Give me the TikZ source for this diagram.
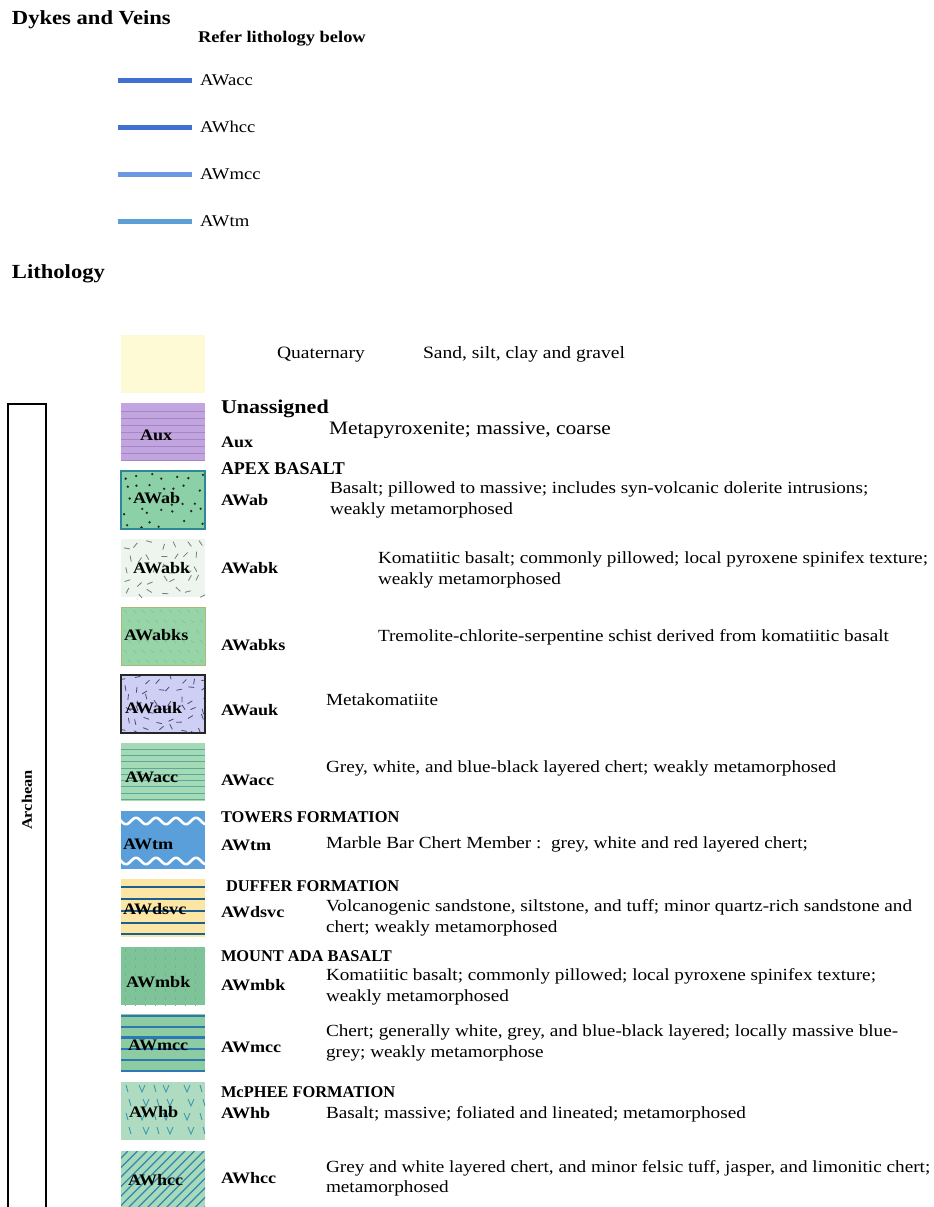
\documentclass[tikz,border=0pt]{standalone}
\usepackage{fontspec}
\setmainfont{Liberation Serif}[FakeStretch=1.13]
\newfontfamily\capsfont{Liberation Serif}[FakeStretch=1.0]
\begin{document}
\begin{tikzpicture}[x=1pt,y=-1pt,
  every node/.style={inner sep=0pt,outer sep=0pt},
  lbox/.style={rectangle,minimum width=84pt,minimum height=58pt,anchor=north west},
  blab/.style={anchor=base west,font=\bfseries\fontsize{16}{16}\selectfont},
  code/.style={anchor=base west,font=\bfseries\fontsize{16}{16}\selectfont},
  form/.style={anchor=base west,font=\capsfont\bfseries\fontsize{16.4}{16.4}\selectfont},
  desc/.style={anchor=base west,font=\fontsize{17}{17}\selectfont},
  title/.style={anchor=base west,font=\bfseries\fontsize{20}{20}\selectfont},
  dyke/.style={line width=5pt},
  dlab/.style={anchor=base west,font=\fontsize{16.5}{16.5}\selectfont}
]
\definecolor{quat}{HTML}{FFFAD6}
\definecolor{auxf}{HTML}{C2A5DE}
\definecolor{auxl}{HTML}{A586C6}
\definecolor{abf}{HTML}{8BD0A6}
\definecolor{abb}{HTML}{2E8796}
\definecolor{abkf}{HTML}{EDF5EE}
\definecolor{abkd}{HTML}{6F8076}
\definecolor{abksf}{HTML}{97D4A8}
\definecolor{abksd}{HTML}{82C195}
\definecolor{abksb}{HTML}{A9BA74}
\definecolor{aukf}{HTML}{CFCFF6}
\definecolor{aukd}{HTML}{4B4B72}
\definecolor{accf}{HTML}{A4DBB6}
\definecolor{accl}{HTML}{5AA99A}
\definecolor{tmf}{HTML}{5A9FDA}
\definecolor{dsvf}{HTML}{FBE6A6}
\definecolor{dsvl}{HTML}{1D5F8F}
\definecolor{mbkf}{HTML}{7FC398}
\definecolor{mbkd}{HTML}{70B68A}
\definecolor{mccf}{HTML}{8DCBA2}
\definecolor{mccl}{HTML}{2B78B3}
\definecolor{hbf}{HTML}{AFDCC0}
\definecolor{hbl}{HTML}{3C98B2}
\definecolor{hccf}{HTML}{A7D9BA}
\definecolor{hccl}{HTML}{2E88AE}
\definecolor{dk1}{HTML}{4270CE}
\definecolor{dk2}{HTML}{4270CE}
\definecolor{dk3}{HTML}{6C98E2}
\definecolor{dk4}{HTML}{5C9ED6}

\fill[white] (0,0) rectangle (934,1207);
\useasboundingbox (0,0) rectangle (934,1207);

% ---------- Dykes and Veins ----------
\node[title] (tdyke) at (12,25) {Dykes and Veins};
\node[anchor=base west,font=\bfseries\fontsize{16.3}{16.3}\selectfont] (tref) at (198,43) {Refer lithology below};
\coordinate (d1a) at (118,80);  \coordinate (d1b) at (192,80);
\coordinate (d2a) at (118,127); \coordinate (d2b) at (192,127);
\coordinate (d3a) at (118,174); \coordinate (d3b) at (192,174);
\coordinate (d4a) at (118,221); \coordinate (d4b) at (192,221);
\draw[dyke,dk1] (d1a) -- (d1b);
\draw[dyke,dk2] (d2a) -- (d2b);
\draw[dyke,dk3] (d3a) -- (d3b);
\draw[dyke,dk4] (d4a) -- (d4b);
\node[dlab] (dl1) at (200,85) {AWacc};
\node[dlab] (dl2) at (200,132) {AWhcc};
\node[dlab] (dl3) at (200,179) {AWmcc};
\node[dlab] (dl4) at (200,226) {AWtm};

% ---------- Lithology ----------
\node[title] (tlith) at (12,278) {Lithology};

% Archean bracket
\node[draw,line width=1.1pt,rectangle,anchor=north west,minimum width=38pt,minimum height=830pt] (arch) at (8,404) {};
\node[rotate=90,font=\bfseries\fontsize{14.5}{14.5}\selectfont] (archt) at (27,800) {Archean};

% Quaternary
\node[lbox,fill=quat] (bq) at (121,335) {};
\node[anchor=base west,font=\fontsize{17.3}{17.3}\selectfont] (tq1) at (277,358) {Quaternary};
\node[anchor=base west,font=\fontsize{17.3}{17.3}\selectfont] (tq2) at (423,358) {Sand, silt, clay and gravel};

% Aux
\node[lbox,fill=auxf] (baux) at (121,403) {};
\begin{scope}
\clip (baux.north west) rectangle (baux.south east);
\begin{scope}[shift={(baux.north west)}]
\foreach \yy in {8,15,...,57} \draw[auxl,line width=0.7pt] (0,\yy) -- (84,\yy);
\end{scope}
\end{scope}
\node[blab] (laux) at (140,440) {Aux};
\node[anchor=base west,font=\bfseries\fontsize{19.5}{19.5}\selectfont] (hun) at (221,413) {Unassigned};
\node[code] (caux) at (221,447) {Aux};
\node[anchor=base west,font=\fontsize{19}{19}\selectfont] (daux) at (329,434) {Metapyroxenite; massive, coarse};

% AWab
\node[lbox,fill=abf] (bab) at (121,471) {};
\begin{scope}
\clip (bab.north west) rectangle (bab.south east);
\begin{scope}[shift={(bab.north west)}]
\pgfmathsetseed{11}
\foreach \r in {0,...,4} \foreach \c in {0,...,6} {
  \fill[black!85] ({\c*12+6+(rnd-0.5)*9},{\r*12+6+(rnd-0.5)*9}) circle (1.3pt);
}
\end{scope}
\end{scope}
\draw[abb,line width=1.4pt] (bab.north west) rectangle (bab.south east);
\node[blab] (lab) at (133,503) {AWab};
\node[anchor=base west,font=\capsfont\bfseries\fontsize{18}{18}\selectfont] (hapex) at (221,474) {APEX BASALT};
\node[code] (cab) at (221,505) {AWab};
\node[desc] (dab1) at (330,493) {Basalt; pillowed to massive; includes syn-volcanic dolerite intrusions;};
\node[desc] (dab2) at (330,514) {weakly metamorphosed};

% AWabk
\node[lbox,fill=abkf] (babk) at (121,539) {};
\begin{scope}
\clip (babk.north west) rectangle (babk.south east);
\begin{scope}[shift={(babk.north west)}]
\pgfmathsetseed{5}
\foreach \r in {0,...,4} \foreach \c in {0,...,6} {
  \pgfmathsetmacro{\xx}{\c*12+6+(rnd-0.5)*8}
  \pgfmathsetmacro{\yy}{\r*12+6+(rnd-0.5)*8}
  \pgfmathsetmacro{\aa}{rnd*180}
  \draw[abkd,line width=0.8pt] (\xx,\yy) ++(\aa:3) -- ++(\aa+180:6);
}
\end{scope}
\end{scope}
\node[blab] (labk) at (133,573) {AWabk};
\node[code] (cabk) at (221,573) {AWabk};
\node[desc] (dabk1) at (378,563) {Komatiitic basalt; commonly pillowed; local pyroxene spinifex texture;};
\node[desc] (dabk2) at (378,584) {weakly metamorphosed};

% AWabks
\node[lbox,fill=abksf] (babks) at (121,607) {};
\begin{scope}
\clip (babks.north west) rectangle (babks.south east);
\begin{scope}[shift={(babks.north west)}]
\foreach \r in {0,...,5} \foreach \c in {0,...,9} {
  \draw[abksd,line width=0.6pt] ({\c*9+3+mod(\r,2)*4},{\r*10+3}) -- ++(3,3);
}
\end{scope}
\end{scope}
\draw[abksb,line width=1pt] (babks.north west) rectangle (babks.south east);
\node[blab] (labks) at (124,640) {AWabks};
\node[code] (cabks) at (221,650) {AWabks};
\node[desc] (dabks) at (378,641) {Tremolite-chlorite-serpentine schist derived from komatiitic basalt};

% AWauk
\node[lbox,fill=aukf] (bauk) at (121,675) {};
\begin{scope}
\clip (bauk.north west) rectangle (bauk.south east);
\begin{scope}[shift={(bauk.north west)}]
\pgfmathsetseed{23}
\foreach \r in {0,...,5} \foreach \c in {0,...,7} {
  \pgfmathsetmacro{\xx}{\c*11+5+(rnd-0.5)*7}
  \pgfmathsetmacro{\yy}{\r*10+5+(rnd-0.5)*7}
  \pgfmathsetmacro{\aa}{rnd*180}
  \draw[aukd,line width=0.8pt] (\xx,\yy) ++(\aa:2.8) -- ++(\aa+180:5.6);
}
\end{scope}
\end{scope}
\draw[black!85,line width=1.4pt] (bauk.north west) rectangle (bauk.south east);
\node[blab] (lauk) at (125,713) {AWauk};
\node[code] (cauk) at (221,715) {AWauk};
\node[desc] (dauk) at (326,705) {Metakomatiite};

% AWacc
\node[lbox,fill=accf] (bacc) at (121,743) {};
\begin{scope}
\clip (bacc.north west) rectangle (bacc.south east);
\begin{scope}[shift={(bacc.north west)}]
\foreach \yy in {6,12.3,...,57} \draw[accl,line width=0.7pt] (0,\yy) -- (84,\yy);
\end{scope}
\end{scope}
\node[blab] (lacc) at (125,782) {AWacc};
\node[code] (cacc) at (221,785) {AWacc};
\node[desc] (dacc) at (326,772) {Grey, white, and blue-black layered chert; weakly metamorphosed};

% AWtm
\node[lbox,fill=tmf] (btm) at (121,811) {};
\begin{scope}
\clip (btm.north west) rectangle (btm.south east);
\begin{scope}[shift={(btm.north west)}]
\draw[white,line width=2.6pt] plot[domain=-5:90,samples=120] (\x,{10+3.2*sin(\x*18)});
\draw[white,line width=2.6pt] plot[domain=-5:90,samples=120] (\x,{50+3.2*sin(\x*18)});
\end{scope}
\end{scope}
\node[blab] (ltm) at (123,849) {AWtm};
\node[form] (htow) at (221,822) {TOWERS FORMATION};
\node[code] (ctm) at (221,850) {AWtm};
\node[desc] (dtm) at (326,848) {Marble Bar Chert Member :\ \ grey, white and red layered chert;};

% AWdsvc
\node[lbox,fill=dsvf] (bdsv) at (121,879) {};
\begin{scope}
\clip (bdsv.north west) rectangle (bdsv.south east);
\begin{scope}[shift={(bdsv.north west)}]
\foreach \yy in {8,20,32,44,55} \draw[dsvl,line width=2.2pt] (0,\yy) -- (84,\yy);
\end{scope}
\end{scope}
\node[blab] (ldsv) at (123,914) {AWdsvc};
\node[form] (hduf) at (226,891) {DUFFER FORMATION};
\node[code] (cdsv) at (221,917) {AWdsvc};
\node[desc] (ddsv1) at (326,911) {Volcanogenic sandstone, siltstone, and tuff; minor quartz-rich sandstone and};
\node[desc] (ddsv2) at (326,932) {chert; weakly metamorphosed};

% AWmbk
\node[lbox,fill=mbkf] (bmbk) at (121,947) {};
\begin{scope}
\clip (bmbk.north west) rectangle (bmbk.south east);
\begin{scope}[shift={(bmbk.north west)}]
\foreach \r in {0,...,7} \foreach \c in {0,...,8} {
  \draw[mbkd,line width=0.6pt] ({\c*10+4},{\r*8+2}) -- ++(0,3);
}
\end{scope}
\end{scope}
\node[blab] (lmbk) at (126,987) {AWmbk};
\node[form] (hmnt) at (221,961) {MOUNT ADA BASALT};
\node[code] (cmbk) at (221,990) {AWmbk};
\node[desc] (dmbk1) at (326,980) {Komatiitic basalt; commonly pillowed; local pyroxene spinifex texture;};
\node[desc] (dmbk2) at (326,1001) {weakly metamorphosed};

% AWmcc
\node[lbox,fill=mccf] (bmcc) at (121,1014) {};
\begin{scope}
\clip (bmcc.north west) rectangle (bmcc.south east);
\begin{scope}[shift={(bmcc.north west)}]
\foreach \yy in {2,13,23.5,35,46,57} \draw[mccl,line width=2.2pt] (0,\yy) -- (84,\yy);
\end{scope}
\end{scope}
\node[blab] (lmcc) at (128,1050) {AWmcc};
\node[code] (cmcc) at (221,1052) {AWmcc};
\node[desc] (dmcc1) at (326,1036) {Chert; generally white, grey, and blue-black layered; locally massive blue-};
\node[desc] (dmcc2) at (326,1057) {grey; weakly metamorphose};

% AWhb
\node[lbox,fill=hbf] (bhb) at (121,1082) {};
\begin{scope}
\clip (bhb.north west) rectangle (bhb.south east);
\begin{scope}[shift={(bhb.north west)}]
\foreach \r in {0,...,3} {
  \foreach \xx in {21,45,66} {
    \draw[hbl,line width=0.9pt] ({\xx-3+mod(\r,2)*4},{\r*14+3}) -- ({\xx+mod(\r,2)*4},{\r*14+10}) -- ({\xx+3+mod(\r,2)*4},{\r*14+3});
  }
  \foreach \xx in {5,33,79} {
    \draw[hbl,line width=0.9pt] ({\xx+mod(\r,2)*3},{\r*14+3}) -- ++(2,7);
  }
}
\end{scope}
\end{scope}
\node[blab] (lhb) at (129,1117) {AWhb};
\node[form] (hmcp) at (221,1097) {McPHEE FORMATION};
\node[code] (chb) at (221,1118) {AWhb};
\node[desc] (dhb) at (326,1118) {Basalt; massive; foliated and lineated; metamorphosed};

% AWhcc
\node[lbox,fill=hccf,minimum height=62pt] (bhcc) at (121,1151) {};
\begin{scope}
\clip (bhcc.north west) rectangle (bhcc.south east);
\begin{scope}[shift={(bhcc.north west)}]
\foreach \i in {-8,...,10} \draw[hccl,line width=1.2pt] ({\i*9.5},64) -- ({\i*9.5+64},0);
\end{scope}
\end{scope}
\node[blab] (lhcc) at (128,1185) {AWhcc};
\node[code] (chcc) at (221,1183) {AWhcc};
\node[desc] (dhcc1) at (326,1172) {Grey and white layered chert, and minor felsic tuff, jasper, and limonitic chert;};
\node[desc] (dhcc2) at (326,1192) {metamorphosed};
\end{tikzpicture}
\end{document}
